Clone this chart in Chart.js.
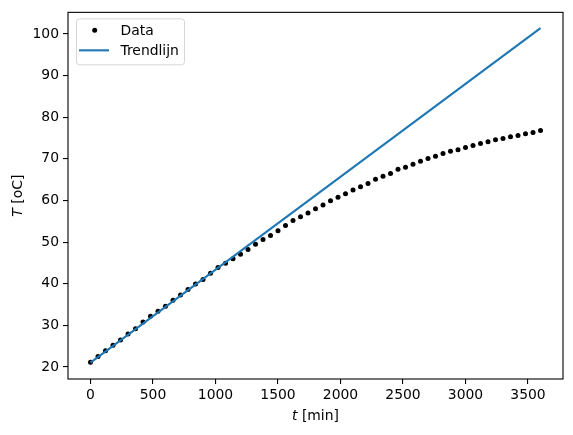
<!DOCTYPE html>
<html><head><meta charset="utf-8">
<script src="https://cdn.jsdelivr.net/npm/chart.js@4.4.0/dist/chart.umd.min.js"></script>
<style>html,body{margin:0;padding:0;background:#fff}#wrap{width:573px;height:435px}</style>
</head><body><div id="wrap"><canvas id="c" width="573" height="435"></canvas></div>
<script>
const timeMin = [0,60,120,180,240,300,360,420,480,540,600,660,720,780,840,900,960,1020,1080,1140,1200,1260,1320,1380,1440,1500,1560,1620,1680,1740,1800,1860,1920,1980,2040,2100,2160,2220,2280,2340,2400,2460,2520,2580,2640,2700,2760,2820,2880,2940,3000,3060,3120,3180,3240,3300,3360,3420,3480,3540,3600];
const temperature = [21.1,22.5,23.9,25.2,26.5,27.9,29.2,30.8,32.2,33.4,34.6,36.0,37.3,38.6,39.9,41.0,42.5,43.9,44.9,46.0,47.1,48.2,49.5,50.6,51.6,52.7,54.0,55.2,56.1,57.0,58.0,58.9,59.9,60.8,61.6,62.5,63.3,64.1,65.1,65.8,66.5,67.5,68.0,68.7,69.4,70.1,70.6,71.3,71.8,72.2,72.7,73.2,73.7,74.1,74.6,74.9,75.3,75.6,76.0,76.3,76.8];
const trendTime = [0, 3600];
const trendTemp = [21.05, 101.4];
const xTickValues = [0,500,1000,1500,2000,2500,3000,3500];
const yTickValues = [20,30,40,50,60,70,80,90,100];
const seriesLabels = ['Data','Trendlijn'];
const xTitle = ['t', ' [min]'];
const yTitle = ['T', ' [oC]'];

const FONT = 'DejaVu Sans';
const FS = 13.9;
const BLUE = '#1f77b4';

const decor = {
  id: 'decor',
  afterDraw(chart) {
    const ctx = chart.ctx, a = chart.chartArea;
    ctx.save();
    // frame
    ctx.strokeStyle = '#000'; ctx.lineWidth = 1.1;
    ctx.strokeRect(a.left, a.top, a.right - a.left, a.bottom - a.top);
    // legend
    const lx = a.left + 8.5, ly = a.top + 6.5, lw = 108, lh = 46;
    ctx.beginPath();
    ctx.roundRect(lx, ly, lw, lh, 3);
    ctx.fillStyle = 'rgba(255,255,255,0.8)'; ctx.fill();
    ctx.strokeStyle = 'rgba(204,204,204,0.8)'; ctx.lineWidth = 1; ctx.stroke();
    ctx.fillStyle = '#000';
    ctx.beginPath(); ctx.arc(lx + 18.2, ly + 11.5, 2.5, 0, Math.PI * 2); ctx.fill();
    ctx.strokeStyle = BLUE; ctx.lineWidth = 2.1;
    ctx.beginPath(); ctx.moveTo(lx + 2.5, ly + 31.5); ctx.lineTo(lx + 32.5, ly + 31.5); ctx.stroke();
    ctx.font = FS + 'px "' + FONT + '"';
    ctx.textBaseline = 'alphabetic'; ctx.textAlign = 'left';
    ctx.fillStyle = '#000';
    ctx.fillText(seriesLabels[0], lx + 44, ly + 16.5);
    ctx.fillText(seriesLabels[1], lx + 44, ly + 36.5);
    // x title
    const it = 'italic ' + FS + 'px "' + FONT + '"', rg = FS + 'px "' + FONT + '"';
    ctx.font = it; const w1 = ctx.measureText(xTitle[0]).width;
    ctx.font = rg; const w2 = ctx.measureText(xTitle[1]).width;
    let sx = (a.left + a.right) / 2 - (w1 + w2) / 2;
    const by = 419.5;
    ctx.font = it; ctx.fillText(xTitle[0], sx, by);
    ctx.font = rg; ctx.fillText(xTitle[1], sx + w1, by);
    // y title
    ctx.font = it; const v1 = ctx.measureText(yTitle[0]).width;
    ctx.font = rg; const v2 = ctx.measureText(yTitle[1]).width;
    ctx.translate(21.5, (a.top + a.bottom) / 2);
    ctx.rotate(-Math.PI / 2);
    const s0 = -(v1 + v2) / 2;
    ctx.font = it; ctx.fillText(yTitle[0], s0, 0);
    ctx.font = rg; ctx.fillText(yTitle[1], s0 + v1, 0);
    ctx.restore();
  }
};

const axisCommon = {
  type: 'linear',
  grid: { display: true, drawOnChartArea: false, drawTicks: true, tickLength: 5, color: '#000', lineWidth: 1.1 },
  border: { display: false },
  ticks: { color: '#000', font: { family: FONT, size: FS }, maxRotation: 0, autoSkip: false, callback: v => String(v) }
};

new Chart(document.getElementById('c'), {
  type: 'scatter',
  data: {
    datasets: [
      {
        type: 'line', label: seriesLabels[1], order: 0,
        data: trendTime.map((t, i) => ({ x: t, y: trendTemp[i] })),
        borderColor: BLUE, borderWidth: 2.1, pointRadius: 0, fill: false, tension: 0
      },
      {
        type: 'scatter', label: seriesLabels[0], order: 1,
        data: timeMin.map((t, i) => ({ x: t, y: temperature[i] })),
        backgroundColor: '#000', borderColor: '#000', pointRadius: 2.5, borderWidth: 0
      }
    ]
  },
  options: {
    responsive: false, animation: false,
    layout: { padding: { top: 11, right: 10, left: 0, bottom: 0 } },
    plugins: { legend: { display: false }, tooltip: { enabled: false } },
    scales: {
      x: Object.assign({}, axisCommon, {
        min: -180, max: 3780,
        ticks: Object.assign({}, axisCommon.ticks, { padding: 3 }),
        afterBuildTicks: s => { s.ticks = xTickValues.map(v => ({ value: v })); },
        afterFit: s => { s.height = 56; }
      }),
      y: Object.assign({}, axisCommon, {
        min: 17.1, max: 105.2,
        ticks: Object.assign({}, axisCommon.ticks, { padding: 4 }),
        afterBuildTicks: s => { s.ticks = yTickValues.map(v => ({ value: v })); },
        afterFit: s => { s.width = 68; }
      })
    }
  },
  plugins: [decor]
});
</script>
</body></html>
